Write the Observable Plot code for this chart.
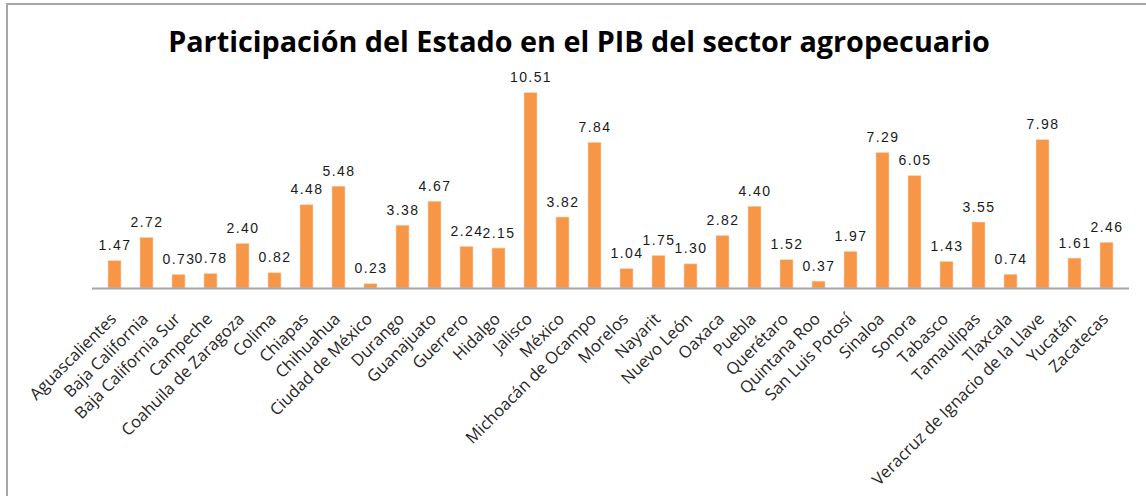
<!DOCTYPE html>
<html>
<head>
<meta charset="utf-8">
<script src="https://cdn.jsdelivr.net/npm/d3@7"></script>
<script src="https://cdn.jsdelivr.net/npm/@observablehq/plot@0.6"></script>
<style>
  html, body { margin: 0; padding: 0; background: #fff; width: 1146px; height: 496px; overflow: hidden; position: relative; }
  #frame { position: absolute; left: 6px; top: 3px; width: 1200px; height: 600px; border: 2px solid #a6a6a6; box-sizing: border-box; }
  #title { position: absolute; left: 6px; width: 1146px; top: 24px; text-align: center; font-family: "Open Sans", sans-serif; font-weight: 700; font-size: 27px; color: #000; white-space: nowrap; line-height: 1.2; }
  #chart { position: absolute; left: 0; top: 60px; }
  #chart svg { overflow: visible; }
</style>
</head>
<body>
<div id="frame"></div>
<div id="title"><span id="tspan">Participación del Estado en el PIB del sector agropecuario</span></div>
<div id="chart"></div>
<script>
const states = ["Aguascalientes","Baja California","Baja California Sur","Campeche","Coahuila de Zaragoza","Colima","Chiapas","Chihuahua","Ciudad de México","Durango","Guanajuato","Guerrero","Hidalgo","Jalisco","México","Michoacán de Ocampo","Morelos","Nayarit","Nuevo León","Oaxaca","Puebla","Querétaro","Quintana Roo","San Luis Potosí","Sinaloa","Sonora","Tabasco","Tamaulipas","Tlaxcala","Veracruz de Ignacio de la Llave","Yucatán","Zacatecas"];
const shares = [1.47,2.72,0.73,0.78,2.40,0.82,4.48,5.48,0.23,3.38,4.67,2.24,2.15,10.51,3.82,7.84,1.04,1.75,1.30,2.82,4.40,1.52,0.37,1.97,7.29,6.05,1.43,3.55,0.74,7.98,1.61,2.46];

const data = states.map((s, i) => ({state: s, value: shares[i]}));

// fit title width
const tspan = document.getElementById("tspan");
const w0 = tspan.getBoundingClientRect().width;
if (w0 > 0) {
  const fs = 27 * 822 / w0;
  document.getElementById("title").style.fontSize = fs + "px";
}

const chart = Plot.plot({
  width: 1146,
  height: 436,
  marginLeft: 92,
  marginRight: 17,
  marginTop: 5,
  marginBottom: 208,
  x: {domain: states, paddingInner: 0.6, paddingOuter: 0.3, align: 0.5},
  y: {domain: [0, 12], axis: null},
  marks: [
    Plot.barY(data, {x: "state", y: "value", fill: "#F79646", stroke: "#FBD5B5", strokeWidth: 0.6}),
    Plot.ruleY([0], {stroke: "#a6a6a6", strokeWidth: 2}),
    Plot.axisX({tickSize: 0, tickPadding: 8, tickRotate: -45, label: null, fill: "#262626"}),
    Plot.text(data, {x: "state", y: "value", text: d => d.value.toFixed(2), lineAnchor: "bottom", dy: -11,
      fontFamily: "Liberation Sans, Arial, sans-serif", fontSize: 14, fill: "#1a1a1a"})
  ]
});
const stateSet = new Set(states);
chart.querySelectorAll("text").forEach(t => {
  const s = t.textContent;
  if (/^\d+\.\d\d$/.test(s)) {
    t.style.letterSpacing = "1.4px";
  } else if (stateSet.has(s)) {
    t.style.fontFamily = "'Open Sans', sans-serif";
    t.style.fontSize = "16.5px";
    t.style.fill = "#262626";
    t.setAttribute("dx", "-15");
    t.setAttribute("dy", "13");
  }
});
document.getElementById("chart").appendChild(chart);
</script>
</body>
</html>
